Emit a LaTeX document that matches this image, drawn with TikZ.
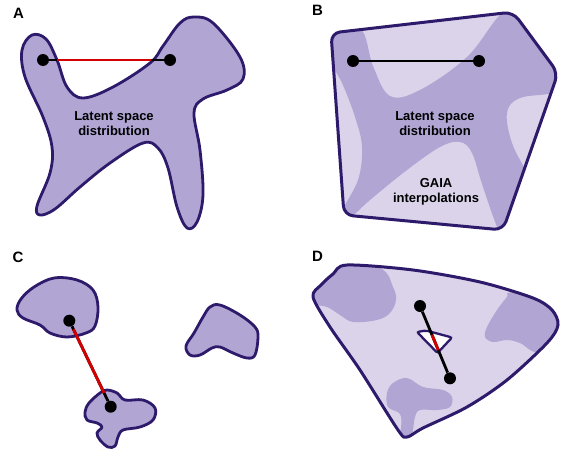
\documentclass[tikz,border=0pt]{standalone}
\usepackage{fontspec}
\setmainfont{Liberation Sans}
\usetikzlibrary{calc}
\definecolor{blobdark}{HTML}{B1A5D4}
\definecolor{bloblight}{HTML}{DBD3EA}
\definecolor{edgecol}{HTML}{2E1A6B}
\definecolor{redline}{HTML}{D40000}
\tikzset{
  region/.style={fill=blobdark, draw=edgecol, line width=2.8pt, line join=round},
  hull/.style={draw=edgecol, line width=3pt, line join=round},
  dot/.style={circle, fill=black, inner sep=0pt, minimum size=12pt},
  link/.style={line width=2.8pt, black},
  gap/.style={line width=2.8pt, redline},
  panel/.style={font=\bfseries\fontsize{15}{18}\selectfont, inner sep=0pt},
  caption/.style={font=\bfseries\fontsize{13}{15}\selectfont, align=center, inner sep=0pt},
}
\begin{document}
\begin{tikzpicture}[x=1pt,y=-1pt]
\useasboundingbox (0,0) rectangle (561,452);

% ---------------- Panel A ----------------
\node[panel] (labA) at (18.5,13) {A};
\draw[region] plot[smooth cycle, tension=0.6] coordinates {
 (32,35) (22,50) (25,77) (43,117) (52,147) (50,173) (37,206) (40,215) (55,209)
 (80,187) (110,163) (143,143) (158,148) (168,168) (177,207) (187,228) (197,222)
 (203,195) (200,150) (194,113) (203,99) (227,90) (243,79) (240,57) (213,23)
 (194,17) (180,23) (163,46) (150,63) (113,87) (83,98) (67,87) (57,60) (46,39)};
\node[caption] (capA) at (114,124) {Latent space\\distribution};
\node[dot] (a1) at (43,60) {};
\node[dot] (a2) at (170,60) {};
\draw[link] (a1) -- (a2);
\draw[gap] ($(a1)!0.11!(a2)$) -- ($(a1)!0.85!(a2)$);

% ---------------- Panel B ----------------
\node[panel] (labB) at (317.5,10.5) {B};
\def\hullB{(331,33) -- (513,12) -- (558,73) -- (503,230) -- (344,215) -- cycle}
\fill[bloblight, rounded corners=9pt] \hullB;
\begin{scope}
  \clip[rounded corners=9pt] \hullB;
  \fill[blobdark] plot[smooth cycle, tension=0.6] coordinates {
   (326,28) (360,28) (373,66) (390,96) (420,90) (467,57) (500,15) (522,6)
   (566,62) (561,90) (520,98) (507,113) (512,143) (527,173) (540,200) (515,245)
   (500,233) (483,187) (472,153) (460,142) (440,147) (407,170) (370,200) (345,222)
   (341,213) (358,180) (362,147) (355,117) (342,83) (327,55)};
\end{scope}
\draw[hull, rounded corners=9pt] \hullB;
\node[caption] (capB) at (435,124) {Latent space\\distribution};
\node[caption] (gaia) at (436,192) {GAIA\\interpolations};
\node[dot] (b1) at (353,61) {};
\node[dot] (b2) at (479,61) {};
\draw[link] (b1) -- (b2);

% ---------------- Panel C ----------------
\node[panel] (labC) at (18,257.5) {C};
\draw[region] plot[smooth cycle, tension=0.6] coordinates {
 (17,310) (21,299) (34,287) (54,278) (77,280) (93,290) (98,307) (95,326)
 (86,333) (67,337) (50,333) (40,325) (23,318)};
\draw[region] plot[smooth cycle, tension=0.6] coordinates {
 (85,412) (89,403) (100,393) (107,390) (117,393) (125,400) (143,400) (155,408)
 (153,420) (140,427) (123,430) (118,437) (115,446) (108,447) (100,440) (97,433)
 (102,427) (97,423) (87,420)};
\draw[region] plot[smooth cycle, tension=0.6] coordinates {
 (186,346) (194,333) (203,317) (210,307) (220,305) (240,315) (255,327) (258,337)
 (255,355) (247,358) (233,353) (220,347) (212,348) (200,355) (190,355)};
\node[dot] (c1) at (69.3,320.7) {};
\node[dot] (c2) at (110.7,406.7) {};
\draw[link] (c1) -- (c2);
\draw[gap] ($(c1)!0.1!(c2)$) -- ($(c1)!0.84!(c2)$);

% ---------------- Panel D ----------------
\node[panel] (labD) at (317.5,256) {D};
\def\hullD{plot[smooth cycle, tension=0.5] coordinates {
 (313,297) (321,285) (333,274) (347,265) (413,270) (480,282) (533,298) (552,310)
 (558,325) (547,343) (507,380) (467,407) (423,428) (407,437) (398,430) (360,370)
 (330,327)}}
\fill[bloblight] \hullD;
\begin{scope}
  \clip \hullD;
  \fill[blobdark] plot[smooth cycle, tension=0.6] coordinates {
   (305,290) (330,255) (380,268) (393,287) (396,300) (390,313) (377,320) (353,322)
   (340,315) (327,307) (310,303)};
  \fill[blobdark] plot[smooth cycle, tension=0.6] coordinates {
   (513,292) (507,297) (497,310) (487,327) (485,337) (493,342) (507,340) (520,343)
   (540,352) (575,330) (570,290)};
  \fill[blobdark] plot[smooth cycle, tension=0.6] coordinates {
   (387,393) (393,383) (407,378) (423,387) (443,390) (452,397) (450,407) (437,410)
   (420,410) (415,417) (413,430) (410,445) (398,444) (401,428) (400,414) (388,407)};
\end{scope}
\draw[hull] \hullD;
\draw[fill=white, draw=edgecol, line width=2.3pt, rounded corners=2pt]
  (417,332) -- (426,330.5) -- (452,337.5) -- (437.5,353) -- cycle;
\node[dot] (d1) at (420,306) {};
\node[dot] (d2) at (450,378.3) {};
\draw[link] (d1) -- (d2);
\draw[gap] ($(d1)!0.40!(d2)$) -- ($(d1)!0.61!(d2)$);
\end{tikzpicture}
\end{document}
